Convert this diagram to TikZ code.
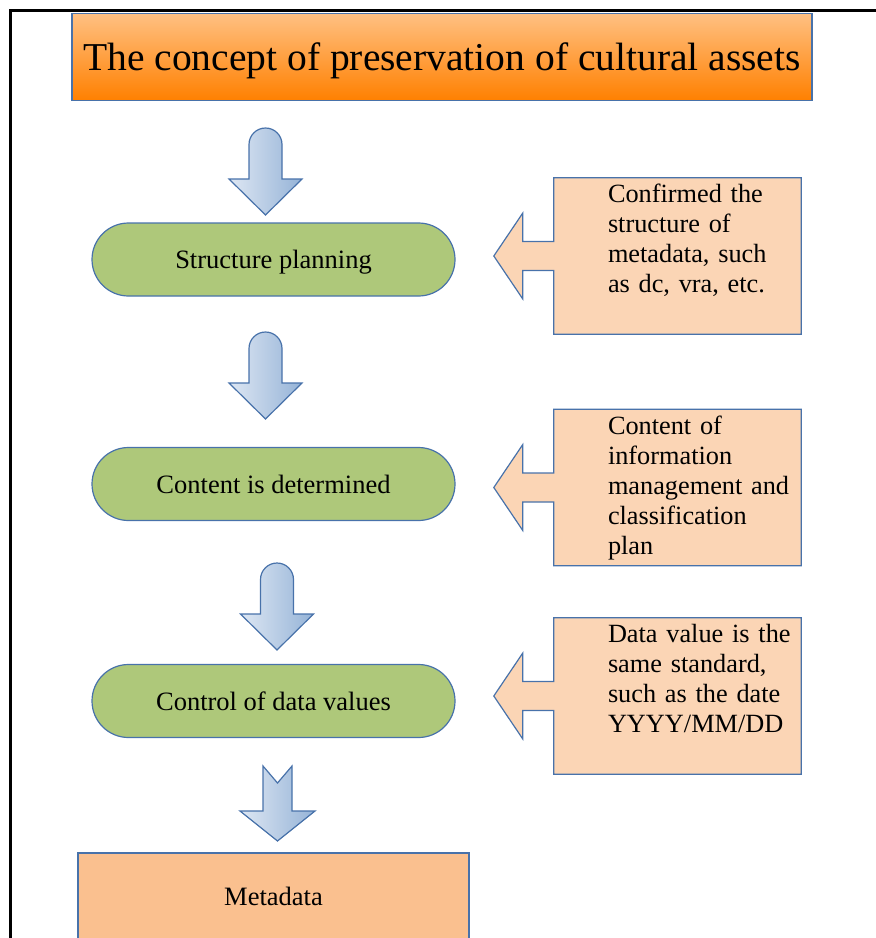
\documentclass[tikz,border=0pt]{standalone}
\usepackage{fontspec}
\setmainfont{Liberation Serif}
\usetikzlibrary{calc}

\definecolor{edgeblue}{RGB}{72,114,170}
\definecolor{titletop}{RGB}{255,192,130}
\definecolor{titlebot}{RGB}{255,128,0}
\definecolor{pillgreen}{RGB}{174,200,122}
\definecolor{calloutpeach}{RGB}{251,213,181}
\definecolor{metaorange}{RGB}{250,192,143}
\definecolor{arrowlight}{RGB}{222,231,243}
\definecolor{arrowdark}{RGB}{149,179,215}

\tikzset{
  titlebox/.style={draw=edgeblue, line width=1.2pt, top color=titletop, bottom color=titlebot,
    minimum width=740pt, minimum height=87pt, inner sep=0pt, text depth=0pt,
    font=\fontsize{39.5}{47}\selectfont},
  pill/.style={draw=edgeblue, line width=1.2pt, fill=pillgreen, rounded corners=36.5pt,
    minimum width=363pt, minimum height=73pt, inner sep=0pt, text depth=0pt,
    font=\fontsize{26.5}{30}\selectfont},
  calloutframe/.style={minimum width=247pt, minimum height=156pt, inner sep=0pt},
  calloutshape/.style={draw=edgeblue, line width=1.2pt, fill=calloutpeach, line join=miter},
  callouttext/.style={anchor=north west, inner sep=0pt, align=left, text width=200pt,
    font=\fontsize{26.3}{30}\selectfont},
  metabox/.style={draw=edgeblue, line width=1.2pt, fill=metaorange,
    minimum width=391pt, minimum height=86pt, inner sep=0pt, text depth=0pt,
    font=\fontsize{26.5}{30}\selectfont},
  blockarrow/.style={draw=edgeblue, line width=1.2pt, left color=arrowlight, right color=arrowdark,
    line join=miter},
  roundarrow/.pic={
    \path[blockarrow] (-16.5,51) -- (-16.5,16.5) arc[start angle=180, end angle=360, radius=16.5]
      -- (16.5,51) -- (36.5,51) -- (0,87) -- (-36.5,51) -- cycle;
  },
  notcharrow/.pic={
    \path[blockarrow] (-14.5,0) -- (0,17) -- (14.5,0) -- (14.5,45) -- (37.5,45) -- (0,75)
      -- (-37.5,45) -- (-14.5,45) -- cycle;
  },
}

% left-pointing callout built around a rectangle node
\newcommand{\calloutpath}[1]{%
  \path[calloutshape] (#1.north west) -- (#1.north east) -- (#1.south east) -- (#1.south west)
    -- ($(#1.west)+(0,14.5)$) -- ++(-31,0) -- ++(0,28.5) -- ($(#1.west)+(-60,0)$)
    -- ($(#1.west)+(-31,-43)$) -- ++(0,28.5) -- ($(#1.west)+(0,-14.5)$) -- cycle;}

\begin{document}
\begin{tikzpicture}[x=1pt, y=-1pt]
\useasboundingbox (0,0) rectangle (876,938);

% page frame
\draw[line width=3pt] (10,940) -- (10,10) -- (877,10);

% title
\node[titlebox] (title) at (442,57) {The concept of preservation of cultural assets};

% process steps
\node[pill] (p1) at (273.5,259.5) {Structure planning};
\node[pill] (p2) at (273.5,484) {Content is determined};
\node[pill] (p3) at (273.5,701) {Control of data values};

% result
\node[metabox] (meta) at (273.5,896) {Metadata};

% downward block arrows
\pic at (265.5,128) {roundarrow};
\pic at (265.5,332) {roundarrow};
\pic at (277,563) {roundarrow};
\pic at (277.5,766) {notcharrow};

% explanatory callouts
\node[calloutframe] (c1) at (677.5,256) {};
\calloutpath{c1}
\node[callouttext] (t1) at ($(c1.north west)+(54,6)$)
  {Confirmed the\\structure of\\metadata, such\\as dc, vra, etc.};

\node[calloutframe] (c2) at (677.5,487.5) {};
\calloutpath{c2}
\node[callouttext] (t2) at ($(c2.north west)+(54,6)$)
  {Content of\\information\\management and\\classification\\plan};

\node[calloutframe] (c3) at (677.5,696) {};
\calloutpath{c3}
\node[callouttext] (t3) at ($(c3.north west)+(54,6)$)
  {Data value is the\\same standard,\\such as the date\\YYYY/MM/DD};
\end{tikzpicture}
\end{document}
